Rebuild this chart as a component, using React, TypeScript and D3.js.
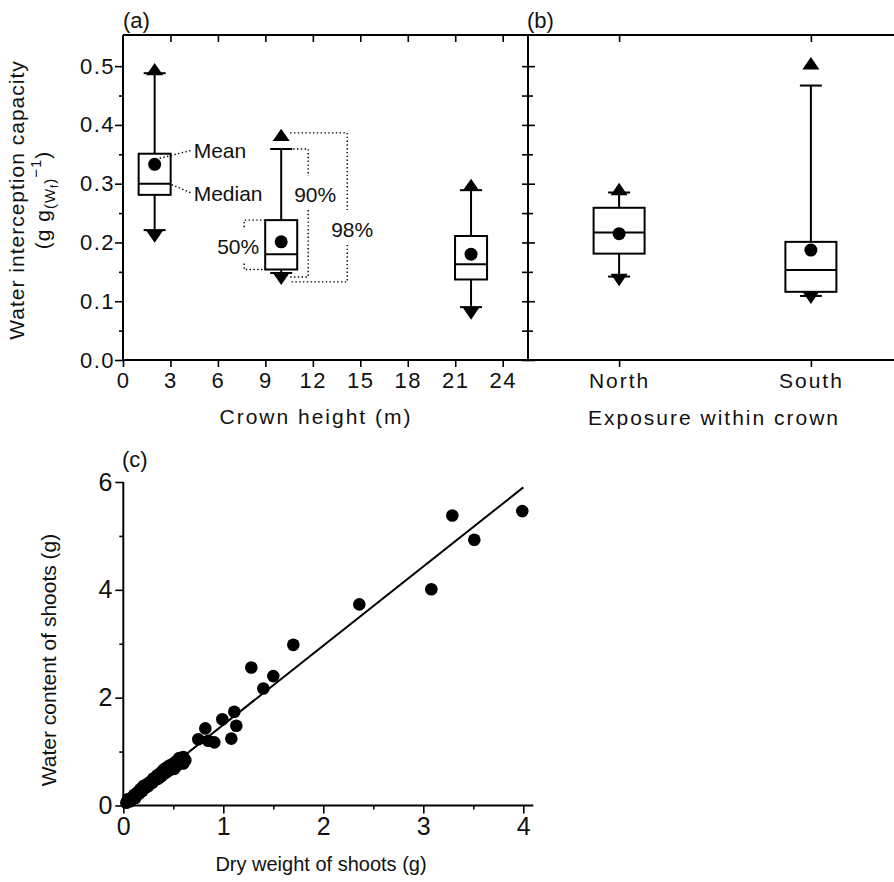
import { useEffect, useRef } from "react";
import * as d3 from "d3";

const FONT = "'Liberation Sans', Arial, Helvetica, sans-serif";

// (a) crown height boxes: percentiles 1, 5, 25, 50, 75, 95, 99 and mean
const crownHeights = [2, 10, 22];
const crownP01 = [0.21, 0.138, 0.079];
const crownP05 = [0.221, 0.148, 0.09];
const crownQ1 = [0.281, 0.154, 0.137];
const crownMed = [0.3, 0.18, 0.163];
const crownQ3 = [0.351, 0.238, 0.211];
const crownP95 = [0.488, 0.359, 0.289];
const crownP99 = [0.495, 0.383, 0.298];
const crownMean = [0.333, 0.201, 0.18];

// (b) exposure boxes
const exposures = ["North", "South"];
const expoP01 = [0.136, 0.106];
const expoP05 = [0.142, 0.109];
const expoQ1 = [0.181, 0.116];
const expoMed = [0.217, 0.153];
const expoQ3 = [0.259, 0.201];
const expoP95 = [0.285, 0.467];
const expoP99 = [0.291, 0.505];
const expoMean = [0.215, 0.187];

const yTicksA = [0, 0.1, 0.2, 0.3, 0.4, 0.5];
const yMinorA = [0.05, 0.15, 0.25, 0.35, 0.45];
const xTicksA = [0, 3, 6, 9, 12, 15, 18, 21, 24];

// (c) dry weight vs water content of shoots
const dryWeight = [
  0.03, 0.05, 0.07, 0.09, 0.11, 0.12, 0.14, 0.16, 0.17, 0.19, 0.2, 0.22, 0.24, 0.25,
  0.27, 0.29, 0.3, 0.32, 0.34, 0.35, 0.37, 0.38, 0.4, 0.42, 0.43, 0.45, 0.46, 0.48,
  0.5, 0.51, 0.53, 0.55, 0.56, 0.58, 0.6, 0.62, 0.6,
  0.75, 0.82, 0.85, 0.91, 0.99, 1.08, 1.11, 1.13, 1.28, 1.4, 1.5, 1.7, 2.36,
  3.08, 3.29, 3.51, 3.99,
];
const waterContent = [
  0.05, 0.12, 0.08, 0.15, 0.2, 0.14, 0.24, 0.22, 0.3, 0.27, 0.36, 0.33, 0.4, 0.36,
  0.44, 0.42, 0.5, 0.47, 0.56, 0.5, 0.6, 0.54, 0.66, 0.6, 0.7, 0.64, 0.74, 0.7,
  0.78, 0.68, 0.82, 0.76, 0.88, 0.82, 0.9, 0.84, 0.78,
  1.23, 1.43, 1.2, 1.17, 1.6, 1.24, 1.74, 1.48, 2.56, 2.17, 2.4, 2.98, 3.73,
  4.01, 5.38, 4.93, 5.46,
];
const fitX = [0, 4];
const fitY = [0.03, 5.9];
const yTicksC = [0, 2, 4, 6];
const yMinorC = [1, 3, 5];
const xTicksC = [0, 1, 2, 3, 4];
const xMinorC = [0.5, 1.5, 2.5, 3.5];

export default function App() {
  const svgRef = useRef<SVGSVGElement>(null);

  useEffect(() => {
    document.body.style.margin = "0";
    const svg = d3.select(svgRef.current);
    svg.selectAll("*").remove();

    const top = 35, bottom = 360, left = 123, mid = 528, W = 894;
    const y = d3.scaleLinear().domain([0, 0.553]).range([bottom, top]);
    const xA = d3.scaleLinear().domain([0, 25.6]).range([left, mid]);
    const xB = d3.scalePoint<string>().domain(exposures).range([mid, 902]).padding(0.475);

    const styleAxis = (g: any, size: number, spacing: number) => {
      g.select(".domain").remove();
      g.selectAll("line").attr("stroke", "#000").attr("stroke-width", 1.6);
      g.selectAll("text")
        .attr("font-size", size)
        .attr("font-family", FONT)
        .attr("fill", "#111")
        .attr("letter-spacing", spacing);
    };

    // ---- axes (a) + (b)
    svg.append("g").attr("transform", `translate(${left},0)`)
      .call(d3.axisLeft(y).tickValues(yTicksA).tickSize(8).tickPadding(0).tickFormat(d3.format(".1f")))
      .call((g: any) => styleAxis(g, 22, 1.5));
    svg.append("g").attr("transform", `translate(${left},0)`)
      .call(d3.axisLeft(y).tickValues(yMinorA).tickSize(4).tickFormat(() => ""))
      .call((g: any) => styleAxis(g, 21, 0));
    svg.append("g").attr("transform", `translate(${mid},0)`)
      .call(d3.axisRight(y).tickValues([...yTicksA, ...yMinorA]).tickSize(-6).tickFormat(() => ""))
      .call((g: any) => styleAxis(g, 21, 0));
    svg.append("g").attr("transform", `translate(${mid},0)`)
      .call(d3.axisRight(y).tickValues(yTicksA).tickSize(7).tickFormat(() => ""))
      .call((g: any) => styleAxis(g, 21, 0));
    svg.append("g").attr("transform", `translate(${mid},0)`)
      .call(d3.axisRight(y).tickValues(yMinorA).tickSize(5).tickFormat(() => ""))
      .call((g: any) => styleAxis(g, 21, 0));

    svg.append("g").attr("transform", `translate(0,${bottom})`)
      .call(d3.axisBottom(xA).tickValues(xTicksA).tickSize(7).tickPadding(5).tickFormat(d3.format("d")))
      .call((g: any) => styleAxis(g, 22, 1.5));
    svg.append("g").attr("transform", `translate(0,${top})`)
      .call(d3.axisBottom(xA).tickValues(xTicksA.slice(1)).tickSize(7).tickFormat(() => ""))
      .call((g: any) => styleAxis(g, 21, 0));
    svg.append("g").attr("transform", `translate(0,${bottom})`)
      .call(d3.axisBottom(xB).tickSize(7).tickPadding(6))
      .call((g: any) => styleAxis(g, 21, 2));
    svg.append("g").attr("transform", `translate(0,${top})`)
      .call(d3.axisBottom(xB).tickSize(7).tickFormat(() => ""))
      .call((g: any) => styleAxis(g, 21, 0));

    // frame
    const frame = svg.append("g").attr("stroke", "#000").attr("stroke-width", 2);
    frame.append("line").attr("x1", left).attr("x2", W).attr("y1", top).attr("y2", top);
    frame.append("line").attr("x1", left).attr("x2", W).attr("y1", bottom).attr("y2", bottom);
    frame.append("line").attr("x1", left).attr("x2", left).attr("y1", top).attr("y2", bottom);
    frame.append("line").attr("x1", mid).attr("x2", mid).attr("y1", top).attr("y2", bottom);

    // ---- boxes
    const drawBox = (cx: number, bw: number, i: number, s: number[][]) => {
      const [p01, p05, q1, med, q3, p95, p99, mean] = s.map((a) => a[i]);
      const g = svg.append("g").attr("stroke", "#000").attr("stroke-width", 2);
      g.append("line").attr("x1", cx).attr("x2", cx).attr("y1", y(q3)).attr("y2", y(p95));
      g.append("line").attr("x1", cx).attr("x2", cx).attr("y1", y(q1)).attr("y2", y(p05));
      [p95, p05].forEach((v) =>
        g.append("line").attr("x1", cx - 11).attr("x2", cx + 11).attr("y1", y(v)).attr("y2", y(v))
      );
      const tw = 8.5, th = 6.2;
      g.append("path")
        .attr("d", `M${cx - tw},${y(p99) + th}L${cx + tw},${y(p99) + th}L${cx},${y(p99) - th}Z`)
        .attr("fill", "#000").attr("stroke", "none");
      g.append("path")
        .attr("d", `M${cx - tw},${y(p01) - th}L${cx + tw},${y(p01) - th}L${cx},${y(p01) + th}Z`)
        .attr("fill", "#000").attr("stroke", "none");
      g.append("rect")
        .attr("x", cx - bw / 2).attr("width", bw)
        .attr("y", y(q3)).attr("height", y(q1) - y(q3))
        .attr("fill", "#fff");
      g.append("line").attr("x1", cx - bw / 2).attr("x2", cx + bw / 2).attr("y1", y(med)).attr("y2", y(med));
      g.append("circle").attr("cx", cx).attr("cy", y(mean)).attr("r", 6.5).attr("fill", "#000").attr("stroke", "none");
    };
    const crownStats = [crownP01, crownP05, crownQ1, crownMed, crownQ3, crownP95, crownP99, crownMean];
    const expoStats = [expoP01, expoP05, expoQ1, expoMed, expoQ3, expoP95, expoP99, expoMean];
    crownHeights.forEach((h, i) => drawBox(xA(h), 32, i, crownStats));
    exposures.forEach((e, i) => drawBox(xB(e)!, 51, i, expoStats));

    // ---- annotations in (a)
    const dot = svg.append("g").attr("stroke", "#000").attr("stroke-width", 1.4)
      .attr("stroke-dasharray", "1.4,2.4").attr("fill", "none");
    const label = (x: number, yy: number, t: string, size = 21, anchor = "start") =>
      svg.append("text").attr("x", x).attr("y", yy).attr("font-size", size)
        .attr("font-family", FONT).attr("fill", "#111").attr("text-anchor", anchor).text(t);

    const c1 = xA(crownHeights[0]);
    dot.append("line").attr("x1", c1 + 5).attr("y1", y(crownMean[0]) - 6).attr("x2", c1 + 37).attr("y2", y(crownMean[0]) - 14);
    label(c1 + 39, y(crownMean[0]) - 6, "Mean");
    dot.append("line").attr("x1", c1 + 17).attr("y1", y(crownMed[0]) + 1).attr("x2", c1 + 36).attr("y2", y(crownMed[0]) + 9);
    label(c1 + 39, y(crownMed[0]) + 17, "Median");

    const c2 = xA(crownHeights[1]);
    const yq3 = y(crownQ3[1]), yq1 = y(crownQ1[1]);
    const y95 = y(crownP95[1]), y05 = y(crownP05[1]);
    const y99 = y(crownP99[1]) - 2, y01 = y(crownP01[1]) + 3;
    // 50%
    dot.append("path").attr("d", `M${c2 - 16},${yq3}H${c2 - 37}V${yq3 + 7}M${c2 - 37},${yq1 - 6}V${yq1}H${c2 - 16}`);
    label(c2 - 22, (yq3 + yq1) / 2 + 9, "50%", 21, "end");
    // 90%
    dot.append("path").attr("d", `M${c2 + 12},${y95}H${c2 + 27}V${y95 + 27}M${c2 + 27},${y95 + 61}V${y05 + 4}H${c2 + 9}`);
    label(c2 + 34, y95 + 53, "90%", 21, "middle");
    // 98%
    dot.append("path").attr("d", `M${c2 + 9},${y99}H${c2 + 66}V${y99 + 77}M${c2 + 66},${y99 + 112}V${y01}H${c2 + 10}`);
    label(c2 + 71, y99 + 104, "98%", 21, "middle");

    // titles (a)/(b)
    label(left, 28, "(a)", 22);
    label(mid - 1, 28, "(b)", 22);
    svg.append("text").attr("x", 316).attr("y", 424)
      .attr("font-size", 21).attr("font-family", FONT).attr("letter-spacing", 2)
      .attr("text-anchor", "middle").attr("fill", "#111").text("Crown height (m)");
    svg.append("text").attr("x", 714).attr("y", 425)
      .attr("font-size", 21).attr("font-family", FONT).attr("letter-spacing", 2)
      .attr("text-anchor", "middle").attr("fill", "#111").text("Exposure within crown");
    svg.append("text").attr("transform", "translate(24,200) rotate(-90)")
      .attr("font-size", 21).attr("font-family", FONT).attr("letter-spacing", 1)
      .attr("text-anchor", "middle").attr("fill", "#111").text("Water interception capacity");
    const t2 = svg.append("text").attr("transform", "translate(50,200) rotate(-90)")
      .attr("font-size", 21).attr("font-family", FONT).attr("letter-spacing", 1)
      .attr("text-anchor", "middle").attr("fill", "#111");
    t2.append("tspan").text("(g g");
    t2.append("tspan").attr("font-size", 15).attr("dy", 5).text("(W");
    t2.append("tspan").attr("font-size", 11).attr("dy", 3).text("f");
    t2.append("tspan").attr("font-size", 15).attr("dy", -3).text(")");
    t2.append("tspan").attr("font-size", 15).attr("dy", -14).text("\u22121");
    t2.append("tspan").attr("dy", 9).text(")");

    // ---- panel (c)
    const xC = d3.scaleLinear().domain([0, 4]).range([123.3, 523.3]);
    const yC = d3.scaleLinear().domain([0, 6]).range([805.5, 482]);

    svg.append("g").attr("transform", `translate(${xC(0)},0)`)
      .call(d3.axisLeft(yC).tickValues(yTicksC).tickSize(8).tickPadding(3).tickFormat(d3.format("d")))
      .call((g: any) => styleAxis(g, 25, 0));
    svg.append("g").attr("transform", `translate(${xC(0)},0)`)
      .call(d3.axisLeft(yC).tickValues(yMinorC).tickSize(4).tickFormat(() => ""))
      .call((g: any) => styleAxis(g, 25, 0));
    svg.append("g").attr("transform", `translate(0,${yC(0)})`)
      .call(d3.axisBottom(xC).tickValues(xTicksC).tickSize(8).tickPadding(4).tickFormat(d3.format("d")))
      .call((g: any) => styleAxis(g, 25, 0));
    svg.append("g").attr("transform", `translate(0,${yC(0)})`)
      .call(d3.axisBottom(xC).tickValues(xMinorC).tickSize(4).tickFormat(() => ""))
      .call((g: any) => styleAxis(g, 25, 0));
    const axC = svg.append("g").attr("stroke", "#000").attr("stroke-width", 2);
    axC.append("line").attr("x1", xC(0)).attr("x2", xC(0)).attr("y1", yC(0)).attr("y2", yC(6));
    axC.append("line").attr("x1", xC(0)).attr("x2", xC(4.1)).attr("y1", yC(0)).attr("y2", yC(0));

    svg.append("g").selectAll("circle")
      .data(dryWeight.map((d, i) => [d, waterContent[i]]))
      .join("circle")
      .attr("cx", (d) => xC(d[0])).attr("cy", (d) => yC(d[1])).attr("r", 6.3).attr("fill", "#000");

    svg.append("path")
      .datum(fitX.map((d, i) => [d, fitY[i]] as [number, number]))
      .attr("fill", "none").attr("stroke", "#000").attr("stroke-width", 2)
      .attr("d", d3.line().x((d) => xC(d[0])).y((d) => yC(d[1])));

    label(122, 467, "(c)", 22);
    svg.append("text").attr("x", 321).attr("y", 871)
      .attr("font-size", 20).attr("font-family", FONT).attr("text-anchor", "middle")
      .attr("fill", "#111").text("Dry weight of shoots (g)");
    svg.append("text").attr("transform", "translate(56,660) rotate(-90)")
      .attr("font-size", 21).attr("font-family", FONT).attr("text-anchor", "middle")
      .attr("fill", "#111").text("Water content of shoots (g)");
  }, []);

  return <svg ref={svgRef} width={894} height={882} style={{ display: "block", background: "#fff" }} />;
}
